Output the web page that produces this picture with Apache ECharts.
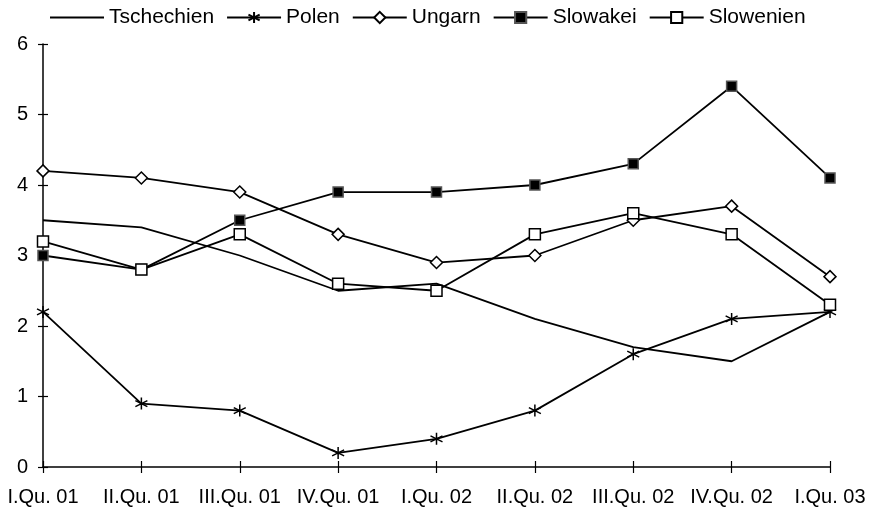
<!DOCTYPE html>
<html lang="de">
<head>
    <meta charset="UTF-8">
    <title>Quartale</title>
    <script src="https://cdn.jsdelivr.net/npm/echarts@6/dist/echarts.min.js"></script>
    <style>
        body { margin: 0; background: #fff; }
        #main { width: 874px; height: 520px; }
    </style>
</head>
<body>
<div id="main"></div>
<script type="text/javascript">

    var categories = ['I.Qu. 01', 'II.Qu. 01', 'III.Qu. 01', 'IV.Qu. 01', 'I.Qu. 02', 'II.Qu. 02', 'III.Qu. 02', 'IV.Qu. 02', 'I.Qu. 03'];
    var tschechien = [3.5, 3.4, 3.0, 2.5, 2.6, 2.1, 1.7, 1.5, 2.2];
    var polen      = [2.2, 0.9, 0.8, 0.2, 0.4, 0.8, 1.6, 2.1, 2.2];
    var ungarn     = [4.2, 4.1, 3.9, 3.3, 2.9, 3.0, 3.5, 3.7, 2.7];
    var slowakei   = [3.0, 2.8, 3.5, 3.9, 3.9, 4.0, 4.3, 5.4, 4.1];
    var slowenien  = [3.2, 2.8, 3.3, 2.6, 2.5, 3.3, 3.6, 3.3, 2.3];
    var names = ['Tschechien', 'Polen', 'Ungarn', 'Slowakei', 'Slowenien'];

    var font = 'Liberation Sans, Arial, sans-serif';
    var star = 'path://M0,-6L0,6M-5.2,-3L5.2,3M-5.2,3L5.2,-3';

    function line(name, data, symbol, size, fill, border) {
        return {
            name: name,
            type: 'line',
            data: data,
            symbol: symbol,
            symbolSize: size,
            showSymbol: symbol !== 'none',
            lineStyle: { color: '#000', width: 1.8 },
            itemStyle: { color: fill, borderColor: border, borderWidth: 1.5 },
            emphasis: { disabled: true },
            animation: false
        };
    }

    var myChart = echarts.init(document.getElementById('main'));
    var option = {
        backgroundColor: '#fff',
        animation: false,
        legend: {
            top: 2,
            left: 44,
            itemWidth: 54,
            itemHeight: 14,
            itemGap: 12,
            textStyle: { fontFamily: font, fontSize: 21, color: '#000' },
            data: [
                { name: names[0], itemStyle: { opacity: 0 } },
                names[1], names[2], names[3], names[4]
            ]
        },
        grid: { left: 43, right: 44, top: 44, bottom: 53 },
        xAxis: [{
            type: 'category',
            data: categories,
            boundaryGap: false,
            axisLine: { lineStyle: { color: '#000', width: 1.5 } },
            axisTick: { show: true, length: 6, alignWithLabel: true, lineStyle: { color: '#000', width: 1.2 } },
            axisLabel: { color: '#000', fontFamily: font, fontSize: 20, margin: 20, interval: 0 },
            splitLine: { show: false }
        }, {
            type: 'category',
            data: categories,
            boundaryGap: false,
            position: 'bottom',
            axisLine: { show: false },
            axisTick: { show: true, inside: true, length: 6, lineStyle: { color: '#000', width: 1.2 } },
            axisLabel: { show: false },
            splitLine: { show: false }
        }],
        yAxis: [{
            type: 'value',
            min: 0,
            max: 6,
            interval: 1,
            axisLine: { show: true, lineStyle: { color: '#000', width: 1.5 } },
            axisTick: { show: true, length: 5, lineStyle: { color: '#000', width: 1.2 } },
            axisLabel: { color: '#000', fontFamily: font, fontSize: 20, margin: 15 },
            splitLine: { show: false }
        }, {
            type: 'value',
            min: 0,
            max: 6,
            interval: 1,
            position: 'left',
            axisLine: { show: false },
            axisTick: { show: true, inside: true, length: 5, lineStyle: { color: '#000', width: 1.2 } },
            axisLabel: { show: false },
            splitLine: { show: false }
        }],
        series: [
            line(names[0], tschechien, 'none', 0, '#000', '#000'),
            line(names[1], polen, star, 12, '#000', '#000'),
            line(names[2], ungarn, 'diamond', 12, '#fff', '#000'),
            line(names[3], slowakei, 'rect', 10, '#000', '#555'),
            line(names[4], slowenien, 'rect', 11, '#fff', '#000')
        ]
    };
    myChart.setOption(option, true);

</script>
</body>
</html>
